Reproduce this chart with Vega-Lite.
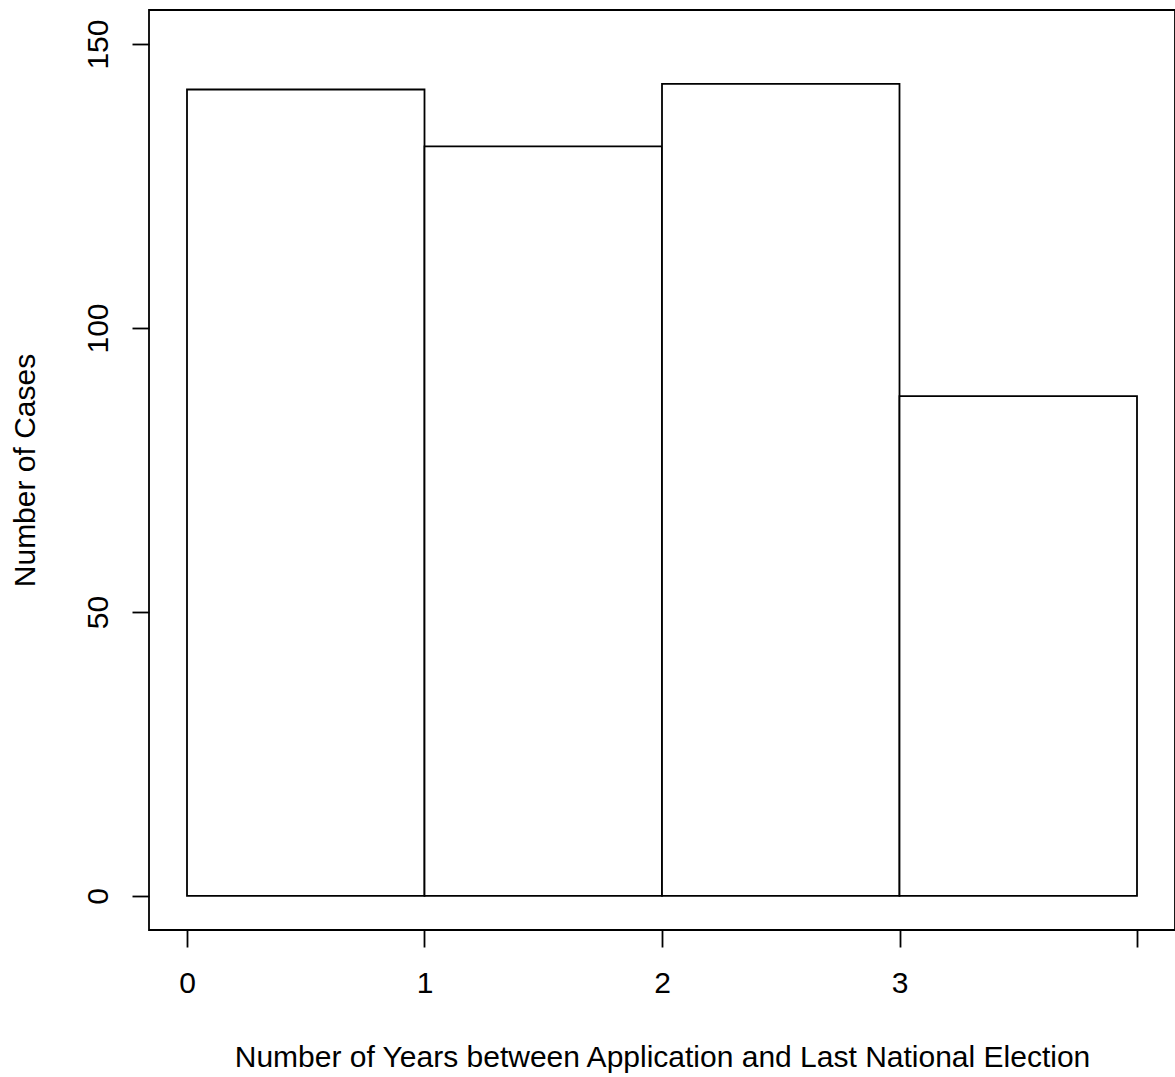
{
  "$schema": "https://vega.github.io/schema/vega-lite/v6.json",
  "autosize": {"type": "none"},
  "padding": {"left": 149, "top": 10, "right": 0, "bottom": 147},
  "width": 1026,
  "height": 920,
  "background": "white",
  "config": {
    "view": {"stroke": "black", "strokeWidth": 1.8},
    "axis": {
      "grid": false,
      "domain": false,
      "tickColor": "black",
      "tickWidth": 1.8,
      "tickSize": 17,
      "labelFont": "Liberation Sans",
      "titleFont": "Liberation Sans",
      "labelFontSize": 30,
      "titleFontSize": 30,
      "labelColor": "black",
      "titleColor": "black",
      "titleFontWeight": "normal"
    }
  },
  "data": {
    "values": [
      {"start": 0, "end": 1, "count": 142},
      {"start": 1, "end": 2, "count": 132},
      {"start": 2, "end": 3, "count": 143},
      {"start": 3, "end": 4, "count": 88}
    ]
  },
  "mark": {"type": "rect", "fill": "white", "stroke": "black", "strokeWidth": 1.8},
  "encoding": {
    "x": {
      "field": "start",
      "type": "quantitative",
      "scale": {"domain": [-0.16, 4.16], "nice": false, "zero": false},
      "axis": {
        "values": [0, 1, 2, 3, 4],
        "labelExpr": "datum.value == 4 ? '' : datum.label",
        "labelBaseline": "alphabetic",
        "labelPadding": 45,
        "labelFlush": false,
        "labelOverlap": false,
        "title": "Number of Years between Application and Last National Election",
        "titleBaseline": "alphabetic",
        "titleY": 136
      }
    },
    "x2": {"field": "end"},
    "y": {
      "field": "count",
      "type": "quantitative",
      "scale": {"domain": [-6, 156], "nice": false, "zero": false},
      "axis": {
        "values": [0, 50, 100, 150],
        "labelAngle": 270,
        "labelAlign": "center",
        "labelBaseline": "alphabetic",
        "labelPadding": 25,
        "labelFlush": false,
        "labelOverlap": false,
        "title": "Number of Cases",
        "titleAngle": 270,
        "titleBaseline": "alphabetic",
        "titleX": -115
      }
    },
    "y2": {"datum": 0}
  }
}
